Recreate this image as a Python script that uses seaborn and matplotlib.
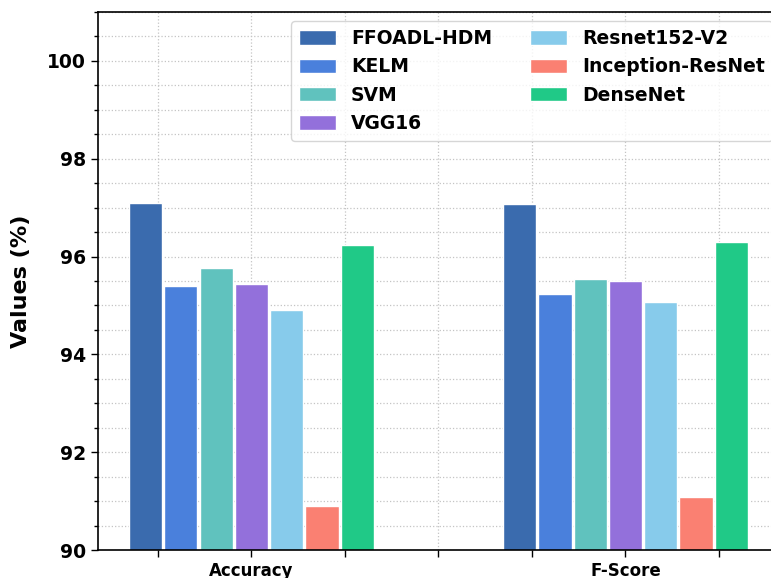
import numpy as np
import pandas as pd
import seaborn as sns
import matplotlib
import matplotlib.pyplot as plt
from matplotlib.ticker import MultipleLocator
matplotlib.use('Agg')

# data
metrics = ['Accuracy', 'F-Score']
models = ['FFOADL-HDM', 'KELM', 'SVM', 'VGG16', 'Resnet152-V2', 'Inception-ResNet', 'DenseNet']
accuracy = [97.10, 95.39, 95.76, 95.44, 94.90, 90.91, 96.24]
fscore = [97.07, 95.24, 95.55, 95.50, 95.08, 91.09, 96.30]
colors = ['#3A6BAE', '#4A80DC', '#60C2BE', '#9370DB', '#87CBEB', '#FA8072', '#20C987']


def main():
    df = pd.DataFrame({
        'metric': np.repeat(metrics, len(models)),
        'model': models * len(metrics),
        'value': accuracy + fscore,
    })

    sns.set_style('white')
    plt.rcParams['font.family'] = ['DejaVu Sans']
    plt.rcParams['font.weight'] = 'bold'
    plt.rcParams['text.color'] = 'black'
    plt.rcParams['axes.labelcolor'] = 'black'
    plt.rcParams['xtick.color'] = 'black'
    plt.rcParams['ytick.color'] = 'black'

    fig = plt.figure(figsize=(7.71, 5.78), dpi=100)
    ax = fig.add_axes([0.1271, 0.0484, 0.887, 0.9308])

    sns.barplot(data=df, x='metric', y='value', hue='model', palette=colors,
                saturation=1, width=0.66, gap=0.06, edgecolor='white', linewidth=1, ax=ax)

    ax.set_ylim(90, 101)
    ax.set_xlim(-0.41, 1.418)
    ax.yaxis.set_major_locator(MultipleLocator(2))
    ax.yaxis.set_minor_locator(MultipleLocator(0.5))
    xt = np.arange(-0.25, 1.3, 0.25)
    ax.set_xticks(xt)
    ax.set_xticklabels(['Accuracy' if abs(t) < 1e-6 else 'F-Score' if abs(t - 1) < 1e-6 else '' for t in xt],
                       fontsize=12, fontweight='bold')
    for lbl in ax.get_yticklabels():
        lbl.set_fontsize(13.5)
        lbl.set_fontweight('bold')
    ax.tick_params(axis='both', which='major', length=5, width=1, color='black', bottom=True, left=True)
    ax.tick_params(axis='y', which='minor', length=3, width=1, color='black', left=True)

    ax.grid(True, which='both', linestyle=':', color='#C4C4C4', linewidth=0.9)
    ax.set_axisbelow(True)

    for s in ax.spines.values():
        s.set_color('black')
        s.set_linewidth(1.2)

    ax.set_xlabel('')
    ax.set_ylabel('Values (%)', fontsize=16, fontweight='bold', labelpad=12)

    ax.legend(loc='upper right', ncol=2, prop={'weight': 'bold', 'size': 13.5},
              frameon=True, fancybox=True, edgecolor='#CCCCCC', framealpha=0.8,
              labelcolor='black', handleheight=0.8)

    fig.savefig('out.png', dpi=100)


if __name__ == '__main__':
    main()
